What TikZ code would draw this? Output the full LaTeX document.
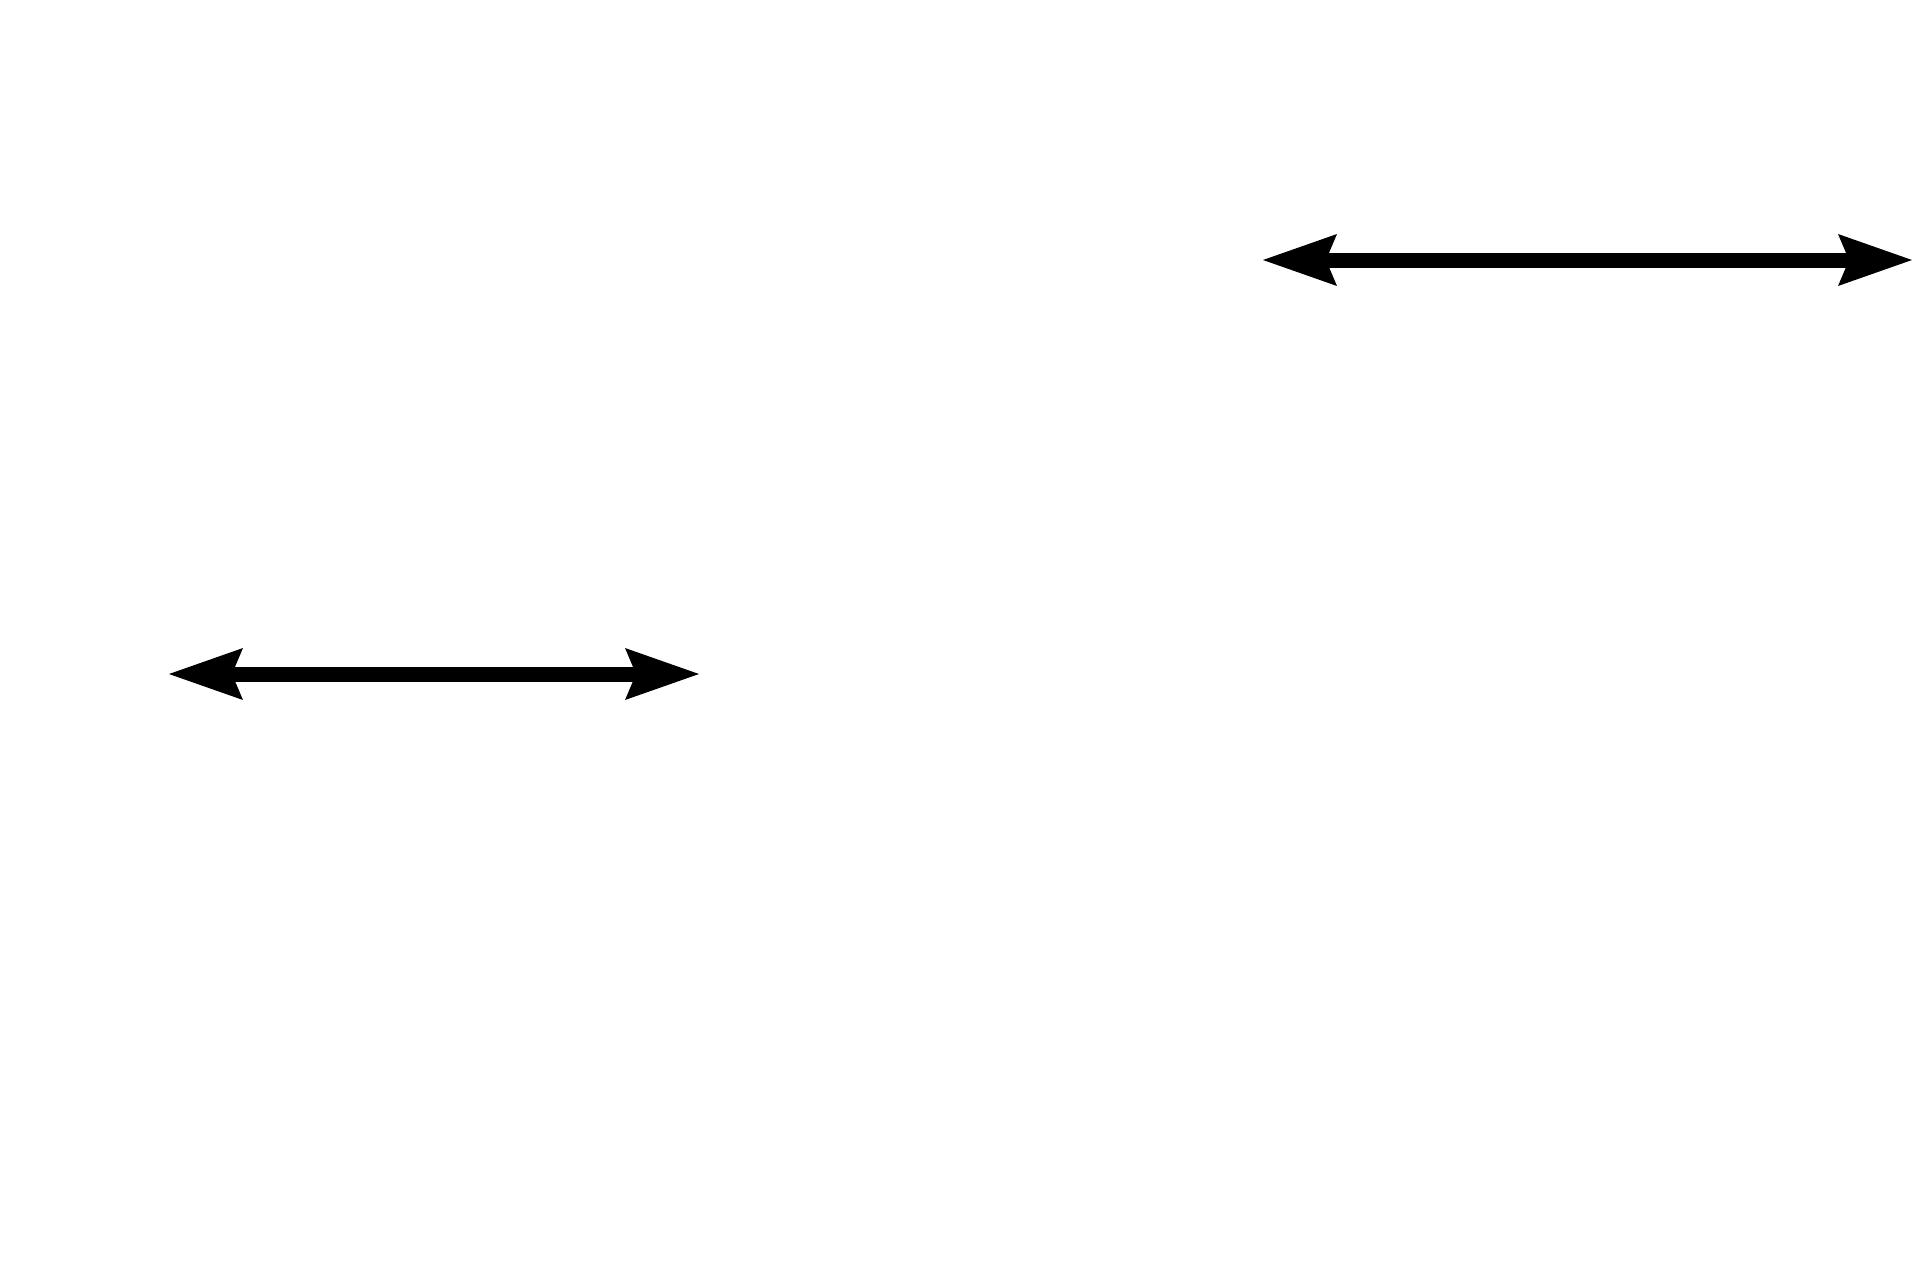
\documentclass[tikz,border=0pt]{standalone}
\usetikzlibrary{arrows.meta}
\tikzset{
  dblarrow/.style={line width=15pt, draw=black,
    {Stealth[length=74pt,width=52pt,inset=11pt,line width=0pt]}-{Stealth[length=74pt,width=52pt,inset=11pt,line width=0pt]}}
}
\begin{document}
\begin{tikzpicture}[x=1pt,y=-1pt]
  \useasboundingbox (0,0) rectangle (1920,1280);
  \coordinate (tl) at (1263,260);
  \coordinate (tr) at (1912,260);
  \coordinate (bl) at (169,674);
  \coordinate (br) at (699,674);
  \draw[dblarrow] (tl) -- (tr);
  \draw[dblarrow] (bl) -- (br);
\end{tikzpicture}
\end{document}
